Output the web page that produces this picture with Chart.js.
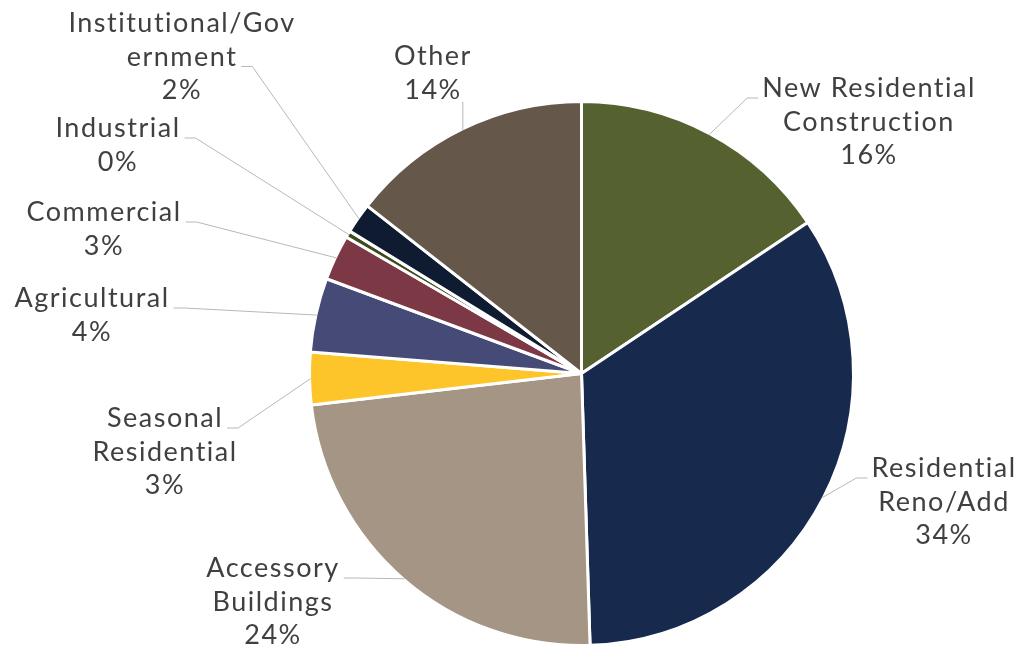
<!DOCTYPE html>
<html>
<head>
<meta charset="utf-8">
<script src="https://cdn.jsdelivr.net/npm/chart.js@4/dist/chart.umd.min.js"></script>
<style>
  html, body { margin: 0; padding: 0; background: #fff; }
  #wrap { width: 1025px; height: 647px; }
</style>
</head>
<body>
<div id="wrap"><canvas id="permitChart"></canvas></div>
<script>
// permit types, clockwise from 12 o'clock
const categories = [
  "New Residential Construction", "Residential Reno/Add", "Accessory Buildings",
  "Seasonal Residential", "Agricultural", "Commercial", "Industrial",
  "Institutional/Government", "Other"
];
// how each label is broken over lines on the chart
const labelLines = [
  ["New Residential", "Construction"], ["Residential", "Reno/Add"], ["Accessory", "Buildings"],
  ["Seasonal", "Residential"], ["Agricultural"], ["Commercial"], ["Industrial"],
  ["Institutional/Gov", "ernment"], ["Other"]
];
// share of permits (%)
const shares = [15.6, 33.8, 23.6, 3.1, 4.4, 2.7, 0.4, 1.8, 14.4];
const sliceColors = [
  "#556230", "#172a4e", "#a59584", "#fdc52a", "#464a76",
  "#7c3845", "#3c4a1c", "#0f1b30", "#66574b"
];

// where the label text sits (centre x, first baseline) and which side the leader leaves from
const labelPos = [
  { x: 869, y: 97,  side: "right", line: 0 },
  { x: 944, y: 477, side: "right", line: 0 },
  { x: 273, y: 577, side: "left",  line: 0 },
  { x: 165, y: 427, side: "left",  line: 0 },
  { x: 92,  y: 307, side: "left",  line: 0 },
  { x: 104, y: 221, side: "left",  line: 0 },
  { x: 118, y: 137, side: "left",  line: 0 },
  { x: 182, y: 32,  side: "left",  line: 1 },
  { x: 433, y: 65,  side: "below", line: 1 }
];
const lineGap = 33.5;

const sliceLabels = {
  id: "sliceLabels",
  afterDatasetsDraw(chart) {
    const ctx = chart.ctx;
    const meta = chart.getDatasetMeta(0);
    const total = shares.reduce((a, b) => a + b, 0);
    ctx.save();
    ctx.font = "27px Lato";
    ctx.letterSpacing = "1.5px";
    ctx.textAlign = "center";
    ctx.textBaseline = "alphabetic";
    meta.data.forEach((arc, i) => {
      const p = arc.getProps(["x", "y", "startAngle", "endAngle", "outerRadius"], true);
      const mid = (p.startAngle + p.endAngle) / 2;
      const ax = p.x + Math.cos(mid) * (p.outerRadius - 1);
      const ay = p.y + Math.sin(mid) * (p.outerRadius - 1);
      const pos = labelPos[i];
      const lines = labelLines[i].concat([Math.round(shares[i] / total * 100) + "%"]);

      // leader line
      ctx.strokeStyle = "#b8b8b8";
      ctx.lineWidth = 1;
      ctx.beginPath();
      if (pos.side === "below") {
        ctx.moveTo(ax, pos.y + pos.line * lineGap + 3);
        ctx.lineTo(ax, ay);
      } else {
        const w = ctx.measureText(lines[pos.line]).width;
        const sy = pos.y + pos.line * lineGap + 1;
        const dir = pos.side === "left" ? 1 : -1;
        const sx = pos.x + dir * (w / 2 + 4);
        ctx.moveTo(sx, sy);
        ctx.lineTo(sx + dir * 11, sy);
        ctx.lineTo(ax, ay);
      }
      ctx.stroke();

      ctx.fillStyle = "#404040";
      lines.forEach((t, k) => ctx.fillText(t, pos.x, pos.y + k * lineGap));
    });
    ctx.restore();
  }
};

new Chart(document.getElementById("permitChart"), {
  type: "pie",
  data: {
    labels: categories,
    datasets: [{
      data: shares,
      backgroundColor: sliceColors,
      borderColor: "#ffffff",
      borderWidth: 3
    }]
  },
  options: {
    responsive: true,
    maintainAspectRatio: false,
    animation: false,
    layout: { padding: { left: 307, right: 169, top: 100, bottom: -2 } },
    plugins: {
      legend: { display: false },
      tooltip: { enabled: false }
    }
  },
  plugins: [sliceLabels]
});
</script>
</body>
</html>
